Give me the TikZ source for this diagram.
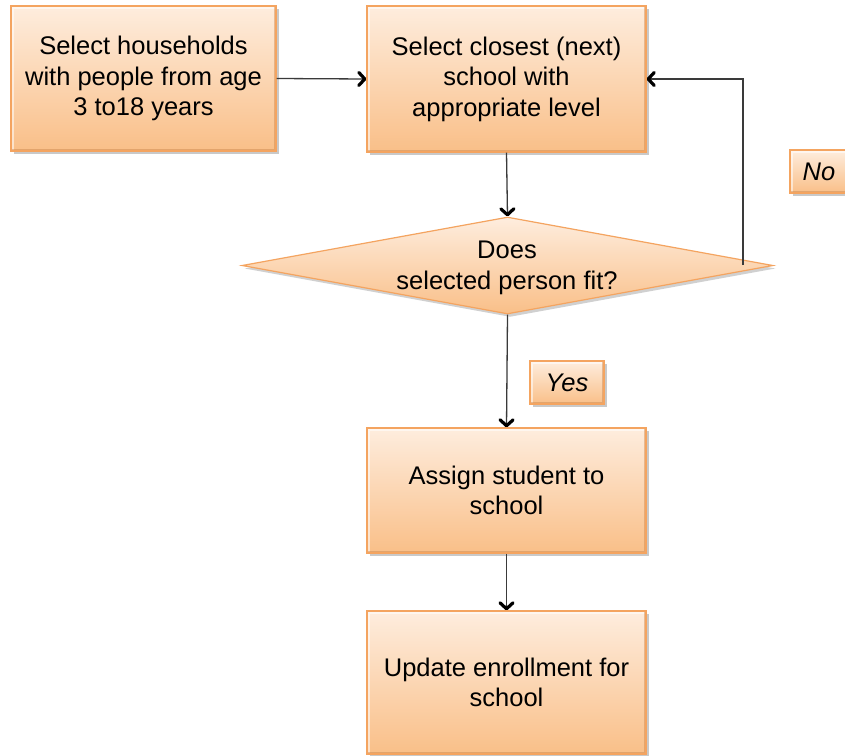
\documentclass[tikz,border=0pt]{standalone}
\usepackage{fontspec}
\setmainfont{Liberation Sans}
\usetikzlibrary{arrows.meta,shapes.geometric,shadows}
\definecolor{peachtop}{HTML}{FEEDDE}
\definecolor{peachbot}{HTML}{F9BF88}
\definecolor{peachedge}{HTML}{F4A460}
\definecolor{bevel}{HTML}{C8844A}
\definecolor{linegray}{HTML}{3A3A3A}
\tikzset{
  x=1pt, y=-1pt,
  bevelled/.style={path picture={
    \draw[white, opacity=0.55, line width=5pt]
      (path picture bounding box.south west) -- (path picture bounding box.north west)
      -- (path picture bounding box.north east);
    \draw[bevel, opacity=0.45, line width=5pt]
      (path picture bounding box.north east) -- (path picture bounding box.south east)
      -- (path picture bounding box.south west);}},
  stepbox/.style={draw=peachedge, line width=1.2pt, top color=peachtop, bottom color=peachbot,
    drop shadow={shadow xshift=2.5pt, shadow yshift=-3pt, opacity=0.35, fill=black!60},
    bevelled, align=center, inner sep=0pt, font=\fontsize{25.5}{30.5}\selectfont},
  decision/.style={diamond, draw=peachedge, line width=1.2pt, top color=peachtop, bottom color=peachbot,
    drop shadow={shadow xshift=2.5pt, shadow yshift=-3pt, opacity=0.3, fill=black!60},
    inner sep=0pt},
  tagbox/.style={stepbox, font=\fontsize{25.5}{30.5}\selectfont\itshape},
  txt/.style={align=center, inner sep=0pt, font=\fontsize{25.5}{30.5}\selectfont},
  arr/.style={draw=linegray, line width=1.3pt,
    -{Straight Barb[length=6pt,width=13pt,line width'=3.2pt,color=black,round]}},
}
\begin{document}
\begin{tikzpicture}
\useasboundingbox (0,0) rectangle (845,755);
\fill[white] (0,0) rectangle (845,755);

% process steps
\node[stepbox, minimum width=265, minimum height=145] (sel) at (143.5,78.5)
  {Select households\\with people from age\\3 to18 years};
\node[stepbox, minimum width=279, minimum height=146] (near) at (506.5,79)
  {Select closest (next)\\school with\\appropriate level};
\node[decision, minimum width=531, minimum height=97] (fit) at (507.5,265.5) {};
\node[txt] (fittext) at (507,268) {Does\\selected person fit?};
\node[stepbox, minimum width=279, minimum height=125] (assign) at (506.5,490.5)
  {Assign student to\\school};
\node[stepbox, minimum width=279, minimum height=143] (update) at (506.5,682.5)
  {Update enrollment for\\school};

% branch labels
\node[tagbox, minimum width=74, minimum height=43] (yes) at (567,382.5) {Yes};
\node[tagbox, minimum width=58, minimum height=43] (no) at (819,171.5) {No};

% connectors
\coordinate (back) at (743,265);
\draw[arr] (sel.east) -- (near.west);
\draw[arr] (near.south) -- (fit.north);
\draw[arr] (fit.south) -- (assign.north);
\draw[arr] (assign.south) -- (update.north);
\draw[arr] (back) |- (near.east);
\end{tikzpicture}
\end{document}
